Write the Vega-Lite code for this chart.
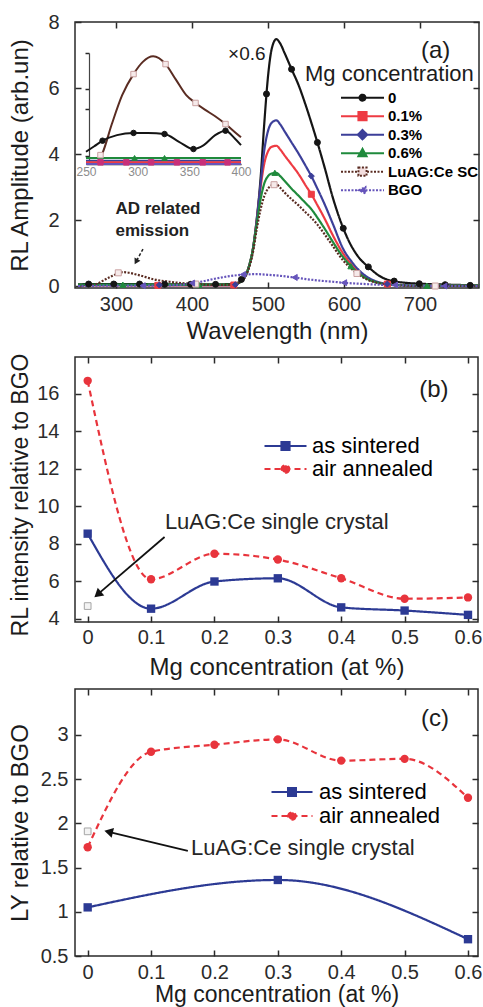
{
 "$schema": "https://vega.github.io/schema/vega-lite/v6.json",
 "background": "white",
 "padding": {"left": 7, "top": 11, "right": 0, "bottom": 0},
 "spacing": 7,
 "config": {
  "font": "Liberation Sans",
  "view": {"stroke": "#2a2a2a", "strokeWidth": 1.5},
  "axis": {"labelFont": "Liberation Sans", "titleFont": "Liberation Sans", "labelFontSize": 20, "titleFontSize": 24, "titleFontWeight": "normal", "labelColor": "#2b2b2b", "titleColor": "#1c1c1c", "tickColor": "#2a2a2a", "tickSize": -6, "tickWidth": 1.5, "domain": false, "grid": false, "labelFlush": false, "labelOverlap": false},
  "legend": {"labelFont": "Liberation Sans"},
  "text": {"font": "Liberation Sans"}
 },
 "datasets": {
  "spectra": [
   {"wl":250,"s":"0","v":0.05},{"wl":270,"s":"0","v":0.06},{"wl":290,"s":"0","v":0.06},{"wl":310,"s":"0","v":0.06},{"wl":330,"s":"0","v":0.06},{"wl":350,"s":"0","v":0.05},{"wl":370,"s":"0","v":0.05},{"wl":390,"s":"0","v":0.05},{"wl":410,"s":"0","v":0.05},{"wl":430,"s":"0","v":0.05},{"wl":450,"s":"0","v":0.06},{"wl":460,"s":"0","v":0.1},{"wl":470,"s":"0","v":0.3},{"wl":475,"s":"0","v":0.6},{"wl":480,"s":"0","v":1.1},{"wl":485,"s":"0","v":2.0},{"wl":490,"s":"0","v":3.2},{"wl":495,"s":"0","v":4.9},{"wl":500,"s":"0","v":6.35},{"wl":505,"s":"0","v":7.2},{"wl":511,"s":"0","v":7.48},{"wl":516,"s":"0","v":7.35},{"wl":522,"s":"0","v":7.05},{"wl":531,"s":"0","v":6.57},{"wl":540,"s":"0","v":6.1},{"wl":550,"s":"0","v":5.45},{"wl":557,"s":"0","v":4.95},{"wl":565,"s":"0","v":4.35},{"wl":575,"s":"0","v":3.55},{"wl":585,"s":"0","v":2.7},{"wl":599,"s":"0","v":1.75},{"wl":610,"s":"0","v":1.2},{"wl":620,"s":"0","v":0.85},{"wl":632,"s":"0","v":0.58},{"wl":645,"s":"0","v":0.33},{"wl":660,"s":"0","v":0.17},{"wl":680,"s":"0","v":0.1},{"wl":700,"s":"0","v":0.07},{"wl":740,"s":"0","v":0.04},{"wl":778,"s":"0","v":0.02},
   {"wl":250,"s":"0.1%","v":0.02},{"wl":350,"s":"0.1%","v":0.02},{"wl":450,"s":"0.1%","v":0.02},{"wl":460,"s":"0.1%","v":0.08},{"wl":470,"s":"0.1%","v":0.3},{"wl":475,"s":"0.1%","v":0.6},{"wl":480,"s":"0.1%","v":1.1},{"wl":485,"s":"0.1%","v":1.95},{"wl":490,"s":"0.1%","v":2.95},{"wl":495,"s":"0.1%","v":3.7},{"wl":500,"s":"0.1%","v":4.08},{"wl":505,"s":"0.1%","v":4.22},{"wl":511,"s":"0.1%","v":4.25},{"wl":516,"s":"0.1%","v":4.14},{"wl":522,"s":"0.1%","v":3.95},{"wl":531,"s":"0.1%","v":3.68},{"wl":540,"s":"0.1%","v":3.4},{"wl":550,"s":"0.1%","v":3.03},{"wl":557,"s":"0.1%","v":2.78},{"wl":565,"s":"0.1%","v":2.45},{"wl":575,"s":"0.1%","v":2.02},{"wl":585,"s":"0.1%","v":1.55},{"wl":599,"s":"0.1%","v":0.98},{"wl":610,"s":"0.1%","v":0.65},{"wl":620,"s":"0.1%","v":0.42},{"wl":632,"s":"0.1%","v":0.22},{"wl":645,"s":"0.1%","v":0.11},{"wl":660,"s":"0.1%","v":0.05},{"wl":680,"s":"0.1%","v":0.02},{"wl":700,"s":"0.1%","v":0.01},{"wl":778,"s":"0.1%","v":0.01},
   {"wl":250,"s":"0.3%","v":0.03},{"wl":350,"s":"0.3%","v":0.03},{"wl":450,"s":"0.3%","v":0.03},{"wl":460,"s":"0.3%","v":0.08},{"wl":470,"s":"0.3%","v":0.3},{"wl":475,"s":"0.3%","v":0.6},{"wl":480,"s":"0.3%","v":1.1},{"wl":485,"s":"0.3%","v":1.95},{"wl":490,"s":"0.3%","v":3.05},{"wl":495,"s":"0.3%","v":4.1},{"wl":500,"s":"0.3%","v":4.7},{"wl":505,"s":"0.3%","v":4.95},{"wl":511,"s":"0.3%","v":5.02},{"wl":516,"s":"0.3%","v":4.9},{"wl":522,"s":"0.3%","v":4.68},{"wl":531,"s":"0.3%","v":4.35},{"wl":540,"s":"0.3%","v":4.02},{"wl":550,"s":"0.3%","v":3.62},{"wl":557,"s":"0.3%","v":3.33},{"wl":565,"s":"0.3%","v":2.95},{"wl":575,"s":"0.3%","v":2.45},{"wl":585,"s":"0.3%","v":1.9},{"wl":599,"s":"0.3%","v":1.12},{"wl":610,"s":"0.3%","v":0.74},{"wl":620,"s":"0.3%","v":0.47},{"wl":632,"s":"0.3%","v":0.25},{"wl":645,"s":"0.3%","v":0.12},{"wl":660,"s":"0.3%","v":0.05},{"wl":680,"s":"0.3%","v":0.02},{"wl":700,"s":"0.3%","v":0.01},{"wl":778,"s":"0.3%","v":0.01},
   {"wl":250,"s":"0.6%","v":0.04},{"wl":350,"s":"0.6%","v":0.04},{"wl":450,"s":"0.6%","v":0.04},{"wl":460,"s":"0.6%","v":0.08},{"wl":470,"s":"0.6%","v":0.3},{"wl":475,"s":"0.6%","v":0.6},{"wl":480,"s":"0.6%","v":1.1},{"wl":485,"s":"0.6%","v":1.85},{"wl":490,"s":"0.6%","v":2.6},{"wl":495,"s":"0.6%","v":3.1},{"wl":500,"s":"0.6%","v":3.33},{"wl":505,"s":"0.6%","v":3.41},{"wl":511,"s":"0.6%","v":3.43},{"wl":516,"s":"0.6%","v":3.33},{"wl":522,"s":"0.6%","v":3.18},{"wl":531,"s":"0.6%","v":2.95},{"wl":540,"s":"0.6%","v":2.74},{"wl":550,"s":"0.6%","v":2.5},{"wl":557,"s":"0.6%","v":2.33},{"wl":565,"s":"0.6%","v":2.07},{"wl":575,"s":"0.6%","v":1.72},{"wl":585,"s":"0.6%","v":1.35},{"wl":599,"s":"0.6%","v":0.87},{"wl":610,"s":"0.6%","v":0.58},{"wl":620,"s":"0.6%","v":0.37},{"wl":632,"s":"0.6%","v":0.2},{"wl":645,"s":"0.6%","v":0.1},{"wl":660,"s":"0.6%","v":0.04},{"wl":680,"s":"0.6%","v":0.02},{"wl":700,"s":"0.6%","v":0.01},{"wl":778,"s":"0.6%","v":0.01},
   {"wl":250,"s":"LuAG:Ce SC","v":0.0},{"wl":270,"s":"LuAG:Ce SC","v":0.03},{"wl":290,"s":"LuAG:Ce SC","v":0.25},{"wl":310,"s":"LuAG:Ce SC","v":0.42},{"wl":330,"s":"LuAG:Ce SC","v":0.33},{"wl":350,"s":"LuAG:Ce SC","v":0.2},{"wl":370,"s":"LuAG:Ce SC","v":0.13},{"wl":390,"s":"LuAG:Ce SC","v":0.08},{"wl":410,"s":"LuAG:Ce SC","v":0.05},{"wl":430,"s":"LuAG:Ce SC","v":0.03},{"wl":450,"s":"LuAG:Ce SC","v":0.04},{"wl":460,"s":"LuAG:Ce SC","v":0.08},{"wl":470,"s":"LuAG:Ce SC","v":0.28},{"wl":475,"s":"LuAG:Ce SC","v":0.55},{"wl":480,"s":"LuAG:Ce SC","v":1.0},{"wl":485,"s":"LuAG:Ce SC","v":1.7},{"wl":490,"s":"LuAG:Ce SC","v":2.3},{"wl":495,"s":"LuAG:Ce SC","v":2.72},{"wl":500,"s":"LuAG:Ce SC","v":2.95},{"wl":505,"s":"LuAG:Ce SC","v":3.05},{"wl":511,"s":"LuAG:Ce SC","v":3.08},{"wl":516,"s":"LuAG:Ce SC","v":2.98},{"wl":522,"s":"LuAG:Ce SC","v":2.83},{"wl":531,"s":"LuAG:Ce SC","v":2.63},{"wl":540,"s":"LuAG:Ce SC","v":2.45},{"wl":550,"s":"LuAG:Ce SC","v":2.22},{"wl":557,"s":"LuAG:Ce SC","v":2.07},{"wl":565,"s":"LuAG:Ce SC","v":1.86},{"wl":575,"s":"LuAG:Ce SC","v":1.55},{"wl":585,"s":"LuAG:Ce SC","v":1.22},{"wl":599,"s":"LuAG:Ce SC","v":0.77},{"wl":610,"s":"LuAG:Ce SC","v":0.52},{"wl":620,"s":"LuAG:Ce SC","v":0.33},{"wl":632,"s":"LuAG:Ce SC","v":0.18},{"wl":645,"s":"LuAG:Ce SC","v":0.09},{"wl":660,"s":"LuAG:Ce SC","v":0.04},{"wl":680,"s":"LuAG:Ce SC","v":0.01},{"wl":700,"s":"LuAG:Ce SC","v":0.0},{"wl":778,"s":"LuAG:Ce SC","v":0.0},
   {"wl":250,"s":"BGO","v":0.0},{"wl":290,"s":"BGO","v":0.01},{"wl":350,"s":"BGO","v":0.01},{"wl":370,"s":"BGO","v":0.02},{"wl":390,"s":"BGO","v":0.05},{"wl":410,"s":"BGO","v":0.12},{"wl":430,"s":"BGO","v":0.22},{"wl":450,"s":"BGO","v":0.3},{"wl":470,"s":"BGO","v":0.35},{"wl":485,"s":"BGO","v":0.36},{"wl":500,"s":"BGO","v":0.34},{"wl":516,"s":"BGO","v":0.31},{"wl":531,"s":"BGO","v":0.27},{"wl":550,"s":"BGO","v":0.21},{"wl":565,"s":"BGO","v":0.17},{"wl":585,"s":"BGO","v":0.13},{"wl":599,"s":"BGO","v":0.1},{"wl":620,"s":"BGO","v":0.07},{"wl":645,"s":"BGO","v":0.04},{"wl":680,"s":"BGO","v":0.02},{"wl":700,"s":"BGO","v":0.01},{"wl":740,"s":"BGO","v":0.0},{"wl":778,"s":"BGO","v":0.0}
  ],
  "spectraMarks": [
   {"wl":264,"s":"0","v":0.06},{"wl":297,"s":"0","v":0.06},{"wl":331,"s":"0","v":0.06},{"wl":364,"s":"0","v":0.05},{"wl":398,"s":"0","v":0.05},{"wl":431,"s":"0","v":0.05},{"wl":465,"s":"0","v":0.2},{"wl":498,"s":"0","v":5.82},{"wl":531,"s":"0","v":6.57},{"wl":565,"s":"0","v":4.35},{"wl":599,"s":"0","v":1.75},{"wl":632,"s":"0","v":0.58},{"wl":666,"s":"0","v":0.15},{"wl":699,"s":"0","v":0.07},{"wl":733,"s":"0","v":0.04},{"wl":766,"s":"0","v":0.02},
   {"wl":355,"s":"0.1%","v":0.02},{"wl":455,"s":"0.1%","v":0.03},{"wl":557,"s":"0.1%","v":2.78},{"wl":657,"s":"0.1%","v":0.06},
   {"wl":357,"s":"0.3%","v":0.03},{"wl":457,"s":"0.3%","v":0.04},{"wl":557,"s":"0.3%","v":3.33},{"wl":657,"s":"0.3%","v":0.06},
   {"wl":309,"s":"0.6%","v":0.04},{"wl":409,"s":"0.6%","v":0.04},{"wl":509,"s":"0.6%","v":3.43},{"wl":609,"s":"0.6%","v":0.6},{"wl":709,"s":"0.6%","v":0.01},
   {"wl":303,"s":"LuAG:Ce SC","v":0.4},{"wl":405,"s":"LuAG:Ce SC","v":0.06},{"wl":508,"s":"LuAG:Ce SC","v":3.07},{"wl":617,"s":"LuAG:Ce SC","v":0.38},{"wl":720,"s":"LuAG:Ce SC","v":0.0},
   {"wl":335,"s":"BGO","v":0.01},{"wl":400,"s":"BGO","v":0.09},{"wl":467,"s":"BGO","v":0.35},{"wl":535,"s":"BGO","v":0.26},{"wl":600,"s":"BGO","v":0.1},{"wl":667,"s":"BGO","v":0.03},{"wl":732,"s":"BGO","v":0.0}
  ],
  "inset": [
   {"wl":262,"s":"LuAG:Ce SC","v":0.03},{"wl":266,"s":"LuAG:Ce SC","v":0.1},{"wl":275,"s":"LuAG:Ce SC","v":0.36},{"wl":285,"s":"LuAG:Ce SC","v":0.62},{"wl":296,"s":"LuAG:Ce SC","v":0.81},{"wl":305,"s":"LuAG:Ce SC","v":0.92},{"wl":315,"s":"LuAG:Ce SC","v":0.97},{"wl":327,"s":"LuAG:Ce SC","v":0.9},{"wl":337,"s":"LuAG:Ce SC","v":0.76},{"wl":347,"s":"LuAG:Ce SC","v":0.62},{"wl":356,"s":"LuAG:Ce SC","v":0.55},{"wl":365,"s":"LuAG:Ce SC","v":0.49},{"wl":375,"s":"LuAG:Ce SC","v":0.43},{"wl":385,"s":"LuAG:Ce SC","v":0.36},{"wl":395,"s":"LuAG:Ce SC","v":0.28},{"wl":400,"s":"LuAG:Ce SC","v":0.24},
   {"wl":250,"s":"0","v":0.11},{"wl":258,"s":"0","v":0.16},{"wl":266,"s":"0","v":0.21},{"wl":280,"s":"0","v":0.26},{"wl":296,"s":"0","v":0.28},{"wl":310,"s":"0","v":0.28},{"wl":326,"s":"0","v":0.27},{"wl":340,"s":"0","v":0.2},{"wl":354,"s":"0","v":0.135},{"wl":364,"s":"0","v":0.17},{"wl":375,"s":"0","v":0.26},{"wl":385,"s":"0","v":0.3},{"wl":394,"s":"0","v":0.23},{"wl":400,"s":"0","v":0.17},
   {"wl":250,"s":"0.6%","v":0.055},{"wl":325,"s":"0.6%","v":0.055},{"wl":400,"s":"0.6%","v":0.055},
   {"wl":250,"s":"0.3%","v":0.03},{"wl":400,"s":"0.3%","v":0.03},
   {"wl":250,"s":"0.1%","v":0.015},{"wl":400,"s":"0.1%","v":0.015},
   {"wl":250,"s":"BGO","v":0.0},{"wl":400,"s":"BGO","v":0.0}
  ],
  "insetMarks": [
   {"wl":264,"s":"LuAG:Ce SC","v":0.08},{"wl":296,"s":"LuAG:Ce SC","v":0.81},{"wl":327,"s":"LuAG:Ce SC","v":0.9},{"wl":356,"s":"LuAG:Ce SC","v":0.55},{"wl":385,"s":"LuAG:Ce SC","v":0.36},
   {"wl":266,"s":"0","v":0.21},{"wl":296,"s":"0","v":0.28},{"wl":326,"s":"0","v":0.27},{"wl":354,"s":"0","v":0.135},{"wl":385,"s":"0","v":0.3},
   {"wl":297,"s":"0.6%","v":0.055},{"wl":326,"s":"0.6%","v":0.055},
   {"wl":264,"s":"0.1%","v":0.015},{"wl":289,"s":"0.1%","v":0.015},{"wl":313,"s":"0.1%","v":0.015},{"wl":338,"s":"0.1%","v":0.015},{"wl":363,"s":"0.1%","v":0.015},{"wl":387,"s":"0.1%","v":0.015}
  ],
  "rl": [
   {"mg":0,"val":8.55,"treat":"as sintered"},{"mg":0.1,"val":4.55,"treat":"as sintered"},{"mg":0.2,"val":6.0,"treat":"as sintered"},{"mg":0.3,"val":6.17,"treat":"as sintered"},{"mg":0.4,"val":4.62,"treat":"as sintered"},{"mg":0.5,"val":4.45,"treat":"as sintered"},{"mg":0.6,"val":4.22,"treat":"as sintered"},
   {"mg":0,"val":16.7,"treat":"air annealed"},{"mg":0.1,"val":6.12,"treat":"air annealed"},{"mg":0.2,"val":7.48,"treat":"air annealed"},{"mg":0.3,"val":7.17,"treat":"air annealed"},{"mg":0.4,"val":6.17,"treat":"air annealed"},{"mg":0.5,"val":5.08,"treat":"air annealed"},{"mg":0.6,"val":5.15,"treat":"air annealed"}
  ],
  "ly": [
   {"mg":0,"val":1.05,"treat":"as sintered"},{"mg":0.3,"val":1.36,"treat":"as sintered"},{"mg":0.6,"val":0.69,"treat":"as sintered"},
   {"mg":0,"val":1.73,"treat":"air annealed"},{"mg":0.1,"val":2.81,"treat":"air annealed"},{"mg":0.2,"val":2.89,"treat":"air annealed"},{"mg":0.3,"val":2.95,"treat":"air annealed"},{"mg":0.4,"val":2.71,"treat":"air annealed"},{"mg":0.5,"val":2.73,"treat":"air annealed"},{"mg":0.6,"val":2.29,"treat":"air annealed"}
  ]
 },
 "vconcat": [
  {
   "width": 404, "height": 266,
   "layer": [
    {
     "layer": [
      {"data": {"name": "spectra"}, "mark": {"type": "line", "interpolate": "monotone", "strokeWidth": 2.2},
       "encoding": {
        "x": {"field": "wl", "type": "quantitative", "title": "Wavelength (nm)", "scale": {"domain": [246.05, 777.6], "nice": false, "zero": false}, "axis": {"values": [300,400,500,600,700], "title": "Wavelength (nm)", "labelPadding": 12, "titleY": 31}},
        "y": {"field": "v", "type": "quantitative", "title": "RL Amplitude (arb.un)", "scale": {"domain": [-0.06, 8], "nice": false, "zero": false}, "axis": {"values": [0,2,4,6,8], "title": "RL Amplitude (arb.un)", "labelPadding": 22, "titleX": -43}},
        "stroke": {"field": "s", "type": "nominal", "scale": {"domain": ["0","0.1%","0.3%","0.6%","LuAG:Ce SC","BGO"], "range": ["#151515","#ee3b43","#3c3f99","#1f8a3c","#5a2c22","#6655bb"]}, "legend": null},
        "strokeDash": {"field": "s", "type": "nominal", "scale": {"domain": ["0","0.1%","0.3%","0.6%","LuAG:Ce SC","BGO"], "range": [[1,0],[1,0],[1,0],[1,0],[2,1.5],[2,1.5]]}, "legend": null}
       }},
      {"data": {"name": "spectraMarks"}, "mark": {"type": "point", "filled": true, "size": 36, "strokeWidth": 1, "opacity": 1},
       "encoding": {
        "x": {"field": "wl", "type": "quantitative", "title": "Wavelength (nm)", "scale": {"domain": [246.05, 777.6], "nice": false, "zero": false}},
        "y": {"field": "v", "type": "quantitative", "title": "RL Amplitude (arb.un)", "scale": {"domain": [-0.06, 8], "nice": false, "zero": false}},
        "shape": {"field": "s", "type": "nominal", "scale": {"domain": ["0","0.1%","0.3%","0.6%","LuAG:Ce SC","BGO"], "range": ["circle","square","diamond","triangle-up","square","triangle-left"]}, "legend": null},
        "fill": {"field": "s", "type": "nominal", "scale": {"domain": ["0","0.1%","0.3%","0.6%","LuAG:Ce SC","BGO"], "range": ["#151515","#ee3b43","#3c3f99","#1f8a3c","#f6eaea","#6655bb"]}, "legend": null},
        "stroke": {"field": "s", "type": "nominal", "scale": {"domain": ["0","0.1%","0.3%","0.6%","LuAG:Ce SC","BGO"], "range": ["#151515","#ee3b43","#3c3f99","#1f8a3c","#c9a0a0","#6655bb"]}, "legend": null}
       }},
      {"data": {"values": [{"wl": 447.4, "v": 7.03, "t": "×0.6"}]}, "mark": {"type": "text", "align": "left", "baseline": "middle", "fontSize": 19, "color": "#1c1c1c"},
       "encoding": {"x": {"field": "wl", "type": "quantitative", "title": "Wavelength (nm)", "scale": {"domain": [246.05, 777.6], "nice": false, "zero": false}}, "y": {"field": "v", "type": "quantitative", "title": "RL Amplitude (arb.un)", "scale": {"domain": [-0.06, 8], "nice": false, "zero": false}}, "text": {"field": "t"}}},
      {"data": {"values": [{"wl": 701.3, "v": 7.12, "t": "(a)"}]}, "mark": {"type": "text", "align": "left", "baseline": "middle", "fontSize": 24, "color": "#1c1c1c"},
       "encoding": {"x": {"field": "wl", "type": "quantitative", "title": "Wavelength (nm)", "scale": {"domain": [246.05, 777.6], "nice": false, "zero": false}}, "y": {"field": "v", "type": "quantitative", "title": "RL Amplitude (arb.un)", "scale": {"domain": [-0.06, 8], "nice": false, "zero": false}}, "text": {"field": "t"}}},
      {"data": {"values": [{"wl": 548.7, "v": 6.42, "t": "Mg concentration"}]}, "mark": {"type": "text", "align": "left", "baseline": "middle", "fontSize": 22, "color": "#1c1c1c"},
       "encoding": {"x": {"field": "wl", "type": "quantitative", "title": "Wavelength (nm)", "scale": {"domain": [246.05, 777.6], "nice": false, "zero": false}}, "y": {"field": "v", "type": "quantitative", "title": "RL Amplitude (arb.un)", "scale": {"domain": [-0.06, 8], "nice": false, "zero": false}}, "text": {"field": "t"}}},
      {"data": {"values": [{"wl": 299.3, "v": 2.33, "t": "AD related"}, {"wl": 299.3, "v": 1.67, "t": "emission"}]}, "mark": {"type": "text", "align": "left", "baseline": "middle", "fontSize": 17, "fontWeight": "bold", "color": "#222222"},
       "encoding": {"x": {"field": "wl", "type": "quantitative", "title": "Wavelength (nm)", "scale": {"domain": [246.05, 777.6], "nice": false, "zero": false}}, "y": {"field": "v", "type": "quantitative", "title": "RL Amplitude (arb.un)", "scale": {"domain": [-0.06, 8], "nice": false, "zero": false}}, "text": {"field": "t"}}},
      {"data": {"values": [{"wl": 335.5, "v": 1.12, "wl2": 326.4, "v2": 0.74}]}, "mark": {"type": "rule", "color": "#222222", "strokeWidth": 1.5, "strokeDash": [3, 2]},
       "encoding": {"x": {"field": "wl", "type": "quantitative", "title": "Wavelength (nm)", "scale": {"domain": [246.05, 777.6], "nice": false, "zero": false}}, "y": {"field": "v", "type": "quantitative", "title": "RL Amplitude (arb.un)", "scale": {"domain": [-0.06, 8], "nice": false, "zero": false}}, "x2": {"field": "wl2"}, "y2": {"field": "v2"}}},
      {"data": {"values": [{"wl": 326.4, "v": 0.74}]}, "mark": {"type": "point", "shape": "triangle-up", "filled": true, "size": 45, "angle": 208.5, "color": "#222222", "opacity": 1},
       "encoding": {"x": {"field": "wl", "type": "quantitative", "title": "Wavelength (nm)", "scale": {"domain": [246.05, 777.6], "nice": false, "zero": false}}, "y": {"field": "v", "type": "quantitative", "title": "RL Amplitude (arb.un)", "scale": {"domain": [-0.06, 8], "nice": false, "zero": false}}}}
     ],
     "resolve": {"scale": {"stroke": "independent"}}
    },
    {"data": {"name": "spectraMarks"}, "mark": {"type": "point", "opacity": 0},
     "encoding": {
      "x": {"field": "wl", "type": "quantitative", "scale": {"domain": [246.05, 777.6], "nice": false, "zero": false}, "axis": {"orient": "top", "values": [300,400,500,600,700], "labels": false, "title": null}},
      "y": {"field": "v", "type": "quantitative", "scale": {"domain": [-0.06, 8], "nice": false, "zero": false}, "axis": {"orient": "right", "values": [0,2,4,6,8], "labels": false, "title": null}}
     }},
    {
     "layer": [
      {"data": {"name": "inset"}, "mark": {"type": "line", "interpolate": "monotone", "strokeWidth": 2},
       "encoding": {
        "x": {"field": "wl", "type": "quantitative", "scale": {"domain": [250, 400], "range": [11, 166], "nice": false, "zero": false}, "axis": {"orient": "bottom", "offset": -124, "values": [250,300,350,400], "labelFontSize": 12, "labelColor": "#8c8c8c", "ticks": false, "domain": true, "domainColor": "#222222", "domainWidth": 1.5, "labelPadding": 2, "title": null}},
        "y": {"field": "v", "type": "quantitative", "scale": {"domain": [0, 1], "range": [142, 31], "nice": false, "zero": false}, "axis": {"orient": "left", "offset": -14, "values": [0.07, 0.5, 0.68, 1], "labels": false, "tickSize": 4, "domain": true, "domainColor": "#444444", "domainWidth": 1.2, "title": null}},
        "stroke": {"field": "s", "type": "nominal", "scale": {"domain": ["0","0.1%","0.3%","0.6%","LuAG:Ce SC","BGO"], "range": ["#151515","#ee3b43","#3c3f99","#1f8a3c","#5a2c22","#6655bb"]}, "legend": null}
       }},
      {"data": {"name": "insetMarks"}, "mark": {"type": "point", "filled": true, "size": 30, "strokeWidth": 1, "opacity": 1},
       "encoding": {
        "x": {"field": "wl", "type": "quantitative", "scale": {"domain": [250, 400], "range": [11, 166], "nice": false, "zero": false}},
        "y": {"field": "v", "type": "quantitative", "scale": {"domain": [0, 1], "range": [142, 31], "nice": false, "zero": false}},
        "shape": {"field": "s", "type": "nominal", "scale": {"domain": ["0","0.1%","0.3%","0.6%","LuAG:Ce SC","BGO"], "range": ["circle","square","diamond","triangle-up","square","triangle-left"]}, "legend": null},
        "fill": {"field": "s", "type": "nominal", "scale": {"domain": ["0","0.1%","0.3%","0.6%","LuAG:Ce SC","BGO"], "range": ["#151515","#c8307a","#3c3f99","#1f8a3c","#f6eaea","#6655bb"]}, "legend": null},
        "stroke": {"field": "s", "type": "nominal", "scale": {"domain": ["0","0.1%","0.3%","0.6%","LuAG:Ce SC","BGO"], "range": ["#151515","#c8307a","#3c3f99","#1f8a3c","#c9a0a0","#6655bb"]}, "legend": null}
       }}
     ],
     "resolve": {"scale": {"stroke": "independent"}}
    },
    {"data": {"values": [{"s": "0"}]}, "transform": [{"filter": "false"}], "mark": {"type": "point", "filled": true, "strokeWidth": 2, "opacity": 1},
     "encoding": {
      "shape": {"field": "s", "type": "nominal", "scale": {"domain": ["0","0.1%","0.3%","0.6%","LuAG:Ce SC","BGO"], "range": ["M-1,0H1M0.14,0A0.14,0.14,0,1,1,-0.14,0A0.14,0.14,0,1,1,0.14,0Z", "M-1,0H1M-0.19,-0.19H0.19V0.19H-0.19Z", "M-1,0H1M0,-0.22L0.22,0L0,0.22L-0.22,0Z", "M-1,0H1M0,-0.2L0.19,0.14L-0.19,0.14Z", "M-1,0H-0.21M0.21,0H1M-0.19,-0.19H0.19V0.19H-0.19Z", "M-1,0H1M-0.17,0L0.14,-0.15L0.14,0.15Z"]},
       "legend": {"orient": "none", "legendX": 265, "legendY": 66.7, "title": null, "symbolSize": 1849, "symbolStrokeWidth": 2, "labelFontSize": 15, "labelFontWeight": "bold", "labelOffset": 3, "clipHeight": 18, "rowPadding": 0.5, "padding": 0, "encode": {"labels": {"update": {"fill": {"signal": "datum.value === '0' ? '#1a1a1a' : datum.value === '0.1%' ? '#ea4448' : datum.value === '0.3%' ? '#4548a8' : datum.value === '0.6%' ? '#2e9048' : datum.value === 'LuAG:Ce SC' ? '#8b4a3c' : '#6c5cc4'"}}}}}},
      "stroke": {"field": "s", "type": "nominal", "scale": {"domain": ["0","0.1%","0.3%","0.6%","LuAG:Ce SC","BGO"], "range": ["#151515","#ee3b43","#3c3f99","#1f8a3c","#5a2c22","#6655bb"]},
       "legend": {"orient": "none", "legendX": 265, "legendY": 66.7, "title": null, "symbolSize": 1849, "symbolStrokeWidth": 2, "labelFontSize": 15, "labelFontWeight": "bold", "labelOffset": 3, "clipHeight": 18, "rowPadding": 0.5, "padding": 0, "encode": {"labels": {"update": {"fill": {"signal": "datum.value === '0' ? '#1a1a1a' : datum.value === '0.1%' ? '#ea4448' : datum.value === '0.3%' ? '#4548a8' : datum.value === '0.6%' ? '#2e9048' : datum.value === 'LuAG:Ce SC' ? '#8b4a3c' : '#6c5cc4'"}}}}}},
      "fill": {"field": "s", "type": "nominal", "scale": {"domain": ["0","0.1%","0.3%","0.6%","LuAG:Ce SC","BGO"], "range": ["#151515","#ee3b43","#3c3f99","#1f8a3c","#f3dede","#6655bb"]},
       "legend": {"orient": "none", "legendX": 265, "legendY": 66.7, "title": null, "symbolSize": 1849, "symbolStrokeWidth": 2, "labelFontSize": 15, "labelFontWeight": "bold", "labelOffset": 3, "clipHeight": 18, "rowPadding": 0.5, "padding": 0, "encode": {"labels": {"update": {"fill": {"signal": "datum.value === '0' ? '#1a1a1a' : datum.value === '0.1%' ? '#ea4448' : datum.value === '0.3%' ? '#4548a8' : datum.value === '0.6%' ? '#2e9048' : datum.value === 'LuAG:Ce SC' ? '#8b4a3c' : '#6c5cc4'"}}}}}},
      "strokeDash": {"field": "s", "type": "nominal", "scale": {"domain": ["0","0.1%","0.3%","0.6%","LuAG:Ce SC","BGO"], "range": [[1,0],[1,0],[1,0],[1,0],[2,1.5],[2,1.5]]},
       "legend": {"orient": "none", "legendX": 265, "legendY": 66.7, "title": null, "symbolSize": 1849, "symbolStrokeWidth": 2, "labelFontSize": 15, "labelFontWeight": "bold", "labelOffset": 3, "clipHeight": 18, "rowPadding": 0.5, "padding": 0, "encode": {"labels": {"update": {"fill": {"signal": "datum.value === '0' ? '#1a1a1a' : datum.value === '0.1%' ? '#ea4448' : datum.value === '0.3%' ? '#4548a8' : datum.value === '0.6%' ? '#2e9048' : datum.value === 'LuAG:Ce SC' ? '#8b4a3c' : '#6c5cc4'"}}}}}}
     }}
   ],
   "resolve": {"scale": {"x": "independent", "y": "independent", "stroke": "independent", "fill": "independent", "shape": "independent", "strokeDash": "independent"}}
  },
  {
   "width": 403, "height": 265,
   "layer": [
    {
     "layer": [
      {"data": {"name": "rl"}, "mark": {"type": "line", "interpolate": "monotone", "strokeWidth": 2.2},
       "encoding": {
        "x": {"field": "mg", "type": "quantitative", "title": "Mg concentration (at %)", "scale": {"domain": [-0.02, 0.6158], "nice": false, "zero": false}, "axis": {"values": [0,0.1,0.2,0.3,0.4,0.5,0.6], "format": "~g", "title": "Mg concentration (at %)", "labelPadding": 11, "titleY": 33}},
        "y": {"field": "val", "type": "quantitative", "title": "RL intensity relative to BGO", "scale": {"domain": [3.84, 17.97], "nice": false, "zero": false}, "axis": {"values": [4,6,8,10,12,14,16], "title": "RL intensity relative to BGO", "titleFontSize": 23, "labelPadding": 22, "titleX": -43, "titleY": 137.5}},
        "stroke": {"field": "treat", "type": "nominal", "scale": {"domain": ["as sintered", "air annealed"], "range": ["#2c3a94", "#e8343c"]}, "legend": null},
        "strokeDash": {"field": "treat", "type": "nominal", "scale": {"domain": ["as sintered", "air annealed"], "range": [[1,0],[6,4]]}, "legend": null}
       }},
      {"data": {"name": "rl"}, "mark": {"type": "point", "filled": true, "size": 70, "opacity": 1},
       "encoding": {
        "x": {"field": "mg", "type": "quantitative", "title": "Mg concentration (at %)", "scale": {"domain": [-0.02, 0.6158], "nice": false, "zero": false}},
        "y": {"field": "val", "type": "quantitative", "title": "RL intensity relative to BGO", "scale": {"domain": [3.84, 17.97], "nice": false, "zero": false}},
        "shape": {"field": "treat", "type": "nominal", "scale": {"domain": ["as sintered", "air annealed"], "range": ["square", "circle"]}, "legend": null},
        "fill": {"field": "treat", "type": "nominal", "scale": {"domain": ["as sintered", "air annealed"], "range": ["#2c3a94", "#e8343c"]}, "legend": null}
       }},
      {"data": {"values": [{"mg": 0, "val": 4.69}]}, "mark": {"type": "point", "shape": "square", "size": 45, "fill": "#f3f3f3", "stroke": "#a5a5a5", "strokeWidth": 1, "opacity": 1},
       "encoding": {"x": {"field": "mg", "type": "quantitative", "title": "Mg concentration (at %)", "scale": {"domain": [-0.02, 0.6158], "nice": false, "zero": false}}, "y": {"field": "val", "type": "quantitative", "title": "RL intensity relative to BGO", "scale": {"domain": [3.84, 17.97], "nice": false, "zero": false}}}},
      {"data": {"values": [{"mg": 0.523, "val": 16.2, "t": "(b)"}]}, "mark": {"type": "text", "align": "left", "baseline": "middle", "fontSize": 24, "color": "#1c1c1c"},
       "encoding": {"x": {"field": "mg", "type": "quantitative", "title": "Mg concentration (at %)", "scale": {"domain": [-0.02, 0.6158], "nice": false, "zero": false}}, "y": {"field": "val", "type": "quantitative", "title": "RL intensity relative to BGO", "scale": {"domain": [3.84, 17.97], "nice": false, "zero": false}}, "text": {"field": "t"}}},
      {"data": {"values": [{"mg": 0.1218, "val": 9.17, "t": "LuAG:Ce single crystal"}]}, "mark": {"type": "text", "align": "left", "baseline": "middle", "fontSize": 22, "color": "#262626"},
       "encoding": {"x": {"field": "mg", "type": "quantitative", "title": "Mg concentration (at %)", "scale": {"domain": [-0.02, 0.6158], "nice": false, "zero": false}}, "y": {"field": "val", "type": "quantitative", "title": "RL intensity relative to BGO", "scale": {"domain": [3.84, 17.97], "nice": false, "zero": false}}, "text": {"field": "t"}}},
      {"data": {"values": [{"mg": 0.1213, "val": 8.37, "mg2": 0.0158, "val2": 5.31}]}, "mark": {"type": "rule", "color": "#111111", "strokeWidth": 1.8},
       "encoding": {"x": {"field": "mg", "type": "quantitative", "title": "Mg concentration (at %)", "scale": {"domain": [-0.02, 0.6158], "nice": false, "zero": false}}, "y": {"field": "val", "type": "quantitative", "title": "RL intensity relative to BGO", "scale": {"domain": [3.84, 17.97], "nice": false, "zero": false}}, "x2": {"field": "mg2"}, "y2": {"field": "val2"}}},
      {"data": {"values": [{"mg": 0.0158, "val": 5.31}]}, "mark": {"type": "point", "shape": "triangle-up", "filled": true, "size": 100, "angle": 229.4, "color": "#111111", "opacity": 1},
       "encoding": {"x": {"field": "mg", "type": "quantitative", "title": "Mg concentration (at %)", "scale": {"domain": [-0.02, 0.6158], "nice": false, "zero": false}}, "y": {"field": "val", "type": "quantitative", "title": "RL intensity relative to BGO", "scale": {"domain": [3.84, 17.97], "nice": false, "zero": false}}}}
     ]
    },
    {"data": {"name": "rl"}, "mark": {"type": "point", "opacity": 0},
     "encoding": {
      "x": {"field": "mg", "type": "quantitative", "scale": {"domain": [-0.02, 0.6158], "nice": false, "zero": false}, "axis": {"orient": "top", "values": [0,0.1,0.2,0.3,0.4,0.5,0.6], "labels": false, "title": null}},
      "y": {"field": "val", "type": "quantitative", "scale": {"domain": [3.84, 17.97], "nice": false, "zero": false}, "axis": {"orient": "right", "values": [4,6,8,10,12,14,16], "labels": false, "title": null}}
     }},
    {"data": {"values": [{"treat": "as sintered"}]}, "transform": [{"filter": "false"}], "mark": {"type": "point", "filled": true, "strokeWidth": 2, "opacity": 1},
     "encoding": {
      "shape": {"field": "treat", "type": "nominal", "scale": {"domain": ["as sintered", "air annealed"], "range": ["M-1,0H1M-0.19,-0.19H0.19V0.19H-0.19Z", "M-1,0H1M0.18,0A0.18,0.18,0,1,1,-0.18,0A0.18,0.18,0,1,1,0.18,0Z"]},
       "legend": {"orient": "none", "legendX": 188, "legendY": 77.5, "title": null, "symbolSize": 1764, "symbolStrokeWidth": 2.2, "labelFontSize": 22, "labelOffset": 4, "clipHeight": 23, "rowPadding": 0, "padding": 0, "encode": {"labels": {"update": {"fill": {"signal": "datum.value === 'as sintered' ? '#3a4aa6' : '#e6393f'"}}}}}},
      "stroke": {"field": "treat", "type": "nominal", "scale": {"domain": ["as sintered", "air annealed"], "range": ["#2c3a94", "#e8343c"]},
       "legend": {"orient": "none", "legendX": 188, "legendY": 77.5, "title": null, "symbolSize": 1764, "symbolStrokeWidth": 2.2, "labelFontSize": 22, "labelOffset": 4, "clipHeight": 23, "rowPadding": 0, "padding": 0, "encode": {"labels": {"update": {"fill": {"signal": "datum.value === 'as sintered' ? '#3a4aa6' : '#e6393f'"}}}}}},
      "fill": {"field": "treat", "type": "nominal", "scale": {"domain": ["as sintered", "air annealed"], "range": ["#2c3a94", "#e8343c"]},
       "legend": {"orient": "none", "legendX": 188, "legendY": 77.5, "title": null, "symbolSize": 1764, "symbolStrokeWidth": 2.2, "labelFontSize": 22, "labelOffset": 4, "clipHeight": 23, "rowPadding": 0, "padding": 0, "encode": {"labels": {"update": {"fill": {"signal": "datum.value === 'as sintered' ? '#3a4aa6' : '#e6393f'"}}}}}},
      "strokeDash": {"field": "treat", "type": "nominal", "scale": {"domain": ["as sintered", "air annealed"], "range": [[1,0],[6,4]]},
       "legend": {"orient": "none", "legendX": 188, "legendY": 77.5, "title": null, "symbolSize": 1764, "symbolStrokeWidth": 2.2, "labelFontSize": 22, "labelOffset": 4, "clipHeight": 23, "rowPadding": 0, "padding": 0, "encode": {"labels": {"update": {"fill": {"signal": "datum.value === 'as sintered' ? '#3a4aa6' : '#e6393f'"}}}}}}
     }}
   ],
   "resolve": {"scale": {"x": "independent", "y": "independent", "stroke": "independent", "fill": "independent", "shape": "independent", "strokeDash": "independent"}}
  },
  {
   "width": 403, "height": 267,
   "layer": [
    {
     "layer": [
      {"data": {"name": "ly"}, "mark": {"type": "line", "interpolate": "monotone", "strokeWidth": 2.2},
       "encoding": {
        "x": {"field": "mg", "type": "quantitative", "title": "Mg concentration (at %)", "scale": {"domain": [-0.02, 0.6158], "nice": false, "zero": false}, "axis": {"values": [0,0.1,0.2,0.3,0.4,0.5,0.6], "format": "~g", "title": "Mg concentration (at %)", "titleFontSize": 23, "labelPadding": 12, "titleY": 27}},
        "y": {"field": "val", "type": "quantitative", "title": "LY relative to BGO", "scale": {"domain": [0.5, 3.52], "nice": false, "zero": false}, "axis": {"values": [0.5,1,1.5,2,2.5,3], "format": "~g", "title": "LY relative to BGO", "labelPadding": 13, "titleX": -43}},
        "stroke": {"field": "treat", "type": "nominal", "scale": {"domain": ["as sintered", "air annealed"], "range": ["#2c3a94", "#e8343c"]}, "legend": null},
        "strokeDash": {"field": "treat", "type": "nominal", "scale": {"domain": ["as sintered", "air annealed"], "range": [[1,0],[6,4]]}, "legend": null}
       }},
      {"data": {"name": "ly"}, "mark": {"type": "point", "filled": true, "size": 70, "opacity": 1},
       "encoding": {
        "x": {"field": "mg", "type": "quantitative", "title": "Mg concentration (at %)", "scale": {"domain": [-0.02, 0.6158], "nice": false, "zero": false}},
        "y": {"field": "val", "type": "quantitative", "title": "LY relative to BGO", "scale": {"domain": [0.5, 3.52], "nice": false, "zero": false}},
        "shape": {"field": "treat", "type": "nominal", "scale": {"domain": ["as sintered", "air annealed"], "range": ["square", "circle"]}, "legend": null},
        "fill": {"field": "treat", "type": "nominal", "scale": {"domain": ["as sintered", "air annealed"], "range": ["#2c3a94", "#e8343c"]}, "legend": null}
       }},
      {"data": {"values": [{"mg": 0, "val": 1.91}]}, "mark": {"type": "point", "shape": "square", "size": 45, "fill": "#f3f3f3", "stroke": "#a5a5a5", "strokeWidth": 1, "opacity": 1},
       "encoding": {"x": {"field": "mg", "type": "quantitative", "title": "Mg concentration (at %)", "scale": {"domain": [-0.02, 0.6158], "nice": false, "zero": false}}, "y": {"field": "val", "type": "quantitative", "title": "LY relative to BGO", "scale": {"domain": [0.5, 3.52], "nice": false, "zero": false}}}},
      {"data": {"values": [{"mg": 0.5257, "val": 3.18, "t": "(c)"}]}, "mark": {"type": "text", "align": "left", "baseline": "middle", "fontSize": 24, "color": "#1c1c1c"},
       "encoding": {"x": {"field": "mg", "type": "quantitative", "title": "Mg concentration (at %)", "scale": {"domain": [-0.02, 0.6158], "nice": false, "zero": false}}, "y": {"field": "val", "type": "quantitative", "title": "LY relative to BGO", "scale": {"domain": [0.5, 3.52], "nice": false, "zero": false}}, "text": {"field": "t"}}},
      {"data": {"values": [{"mg": 0.163, "val": 1.725, "t": "LuAG:Ce single crystal"}]}, "mark": {"type": "text", "align": "left", "baseline": "middle", "fontSize": 22, "color": "#262626"},
       "encoding": {"x": {"field": "mg", "type": "quantitative", "title": "Mg concentration (at %)", "scale": {"domain": [-0.02, 0.6158], "nice": false, "zero": false}}, "y": {"field": "val", "type": "quantitative", "title": "LY relative to BGO", "scale": {"domain": [0.5, 3.52], "nice": false, "zero": false}}, "text": {"field": "t"}}},
      {"data": {"values": [{"mg": 0.158, "val": 1.688, "mg2": 0.033, "val2": 1.904}]}, "mark": {"type": "rule", "color": "#111111", "strokeWidth": 1.8},
       "encoding": {"x": {"field": "mg", "type": "quantitative", "title": "Mg concentration (at %)", "scale": {"domain": [-0.02, 0.6158], "nice": false, "zero": false}}, "y": {"field": "val", "type": "quantitative", "title": "LY relative to BGO", "scale": {"domain": [0.5, 3.52], "nice": false, "zero": false}}, "x2": {"field": "mg2"}, "y2": {"field": "val2"}}},
      {"data": {"values": [{"mg": 0.033, "val": 1.904}]}, "mark": {"type": "point", "shape": "triangle-up", "filled": true, "size": 100, "angle": 283.5, "color": "#111111", "opacity": 1},
       "encoding": {"x": {"field": "mg", "type": "quantitative", "title": "Mg concentration (at %)", "scale": {"domain": [-0.02, 0.6158], "nice": false, "zero": false}}, "y": {"field": "val", "type": "quantitative", "title": "LY relative to BGO", "scale": {"domain": [0.5, 3.52], "nice": false, "zero": false}}}}
     ]
    },
    {"data": {"name": "ly"}, "mark": {"type": "point", "opacity": 0},
     "encoding": {
      "x": {"field": "mg", "type": "quantitative", "scale": {"domain": [-0.02, 0.6158], "nice": false, "zero": false}, "axis": {"orient": "top", "values": [0,0.1,0.2,0.3,0.4,0.5,0.6], "labels": false, "title": null}},
      "y": {"field": "val", "type": "quantitative", "scale": {"domain": [0.5, 3.52], "nice": false, "zero": false}, "axis": {"orient": "right", "values": [0.5,1,1.5,2,2.5,3], "labels": false, "title": null}}
     }},
    {"data": {"values": [{"treat": "as sintered"}]}, "transform": [{"filter": "false"}], "mark": {"type": "point", "filled": true, "strokeWidth": 2, "opacity": 1},
     "encoding": {
      "shape": {"field": "treat", "type": "nominal", "scale": {"domain": ["as sintered", "air annealed"], "range": ["M-1,0H1M-0.19,-0.19H0.19V0.19H-0.19Z", "M-1,0H1M0.18,0A0.18,0.18,0,1,1,-0.18,0A0.18,0.18,0,1,1,0.18,0Z"]},
       "legend": {"orient": "none", "legendX": 195, "legendY": 91, "title": null, "symbolSize": 1681, "symbolStrokeWidth": 2.2, "labelFontSize": 22, "labelOffset": 5, "clipHeight": 24, "rowPadding": 0, "padding": 0, "encode": {"labels": {"update": {"fill": {"signal": "datum.value === 'as sintered' ? '#3a4aa6' : '#e6393f'"}}}}}},
      "stroke": {"field": "treat", "type": "nominal", "scale": {"domain": ["as sintered", "air annealed"], "range": ["#2c3a94", "#e8343c"]},
       "legend": {"orient": "none", "legendX": 195, "legendY": 91, "title": null, "symbolSize": 1681, "symbolStrokeWidth": 2.2, "labelFontSize": 22, "labelOffset": 5, "clipHeight": 24, "rowPadding": 0, "padding": 0, "encode": {"labels": {"update": {"fill": {"signal": "datum.value === 'as sintered' ? '#3a4aa6' : '#e6393f'"}}}}}},
      "fill": {"field": "treat", "type": "nominal", "scale": {"domain": ["as sintered", "air annealed"], "range": ["#2c3a94", "#e8343c"]},
       "legend": {"orient": "none", "legendX": 195, "legendY": 91, "title": null, "symbolSize": 1681, "symbolStrokeWidth": 2.2, "labelFontSize": 22, "labelOffset": 5, "clipHeight": 24, "rowPadding": 0, "padding": 0, "encode": {"labels": {"update": {"fill": {"signal": "datum.value === 'as sintered' ? '#3a4aa6' : '#e6393f'"}}}}}},
      "strokeDash": {"field": "treat", "type": "nominal", "scale": {"domain": ["as sintered", "air annealed"], "range": [[1,0],[6,4]]},
       "legend": {"orient": "none", "legendX": 195, "legendY": 91, "title": null, "symbolSize": 1681, "symbolStrokeWidth": 2.2, "labelFontSize": 22, "labelOffset": 5, "clipHeight": 24, "rowPadding": 0, "padding": 0, "encode": {"labels": {"update": {"fill": {"signal": "datum.value === 'as sintered' ? '#3a4aa6' : '#e6393f'"}}}}}}
     }}
   ],
   "resolve": {"scale": {"x": "independent", "y": "independent", "stroke": "independent", "fill": "independent", "shape": "independent", "strokeDash": "independent"}}
  }
 ]
}
